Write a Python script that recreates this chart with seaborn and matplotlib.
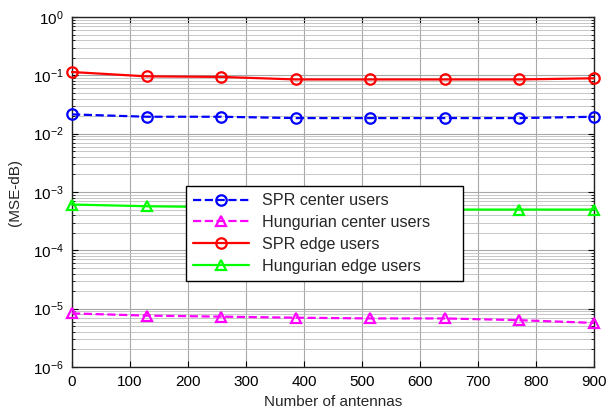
import numpy as np
import pandas as pd
import matplotlib
matplotlib.use("Agg")
import matplotlib.pyplot as plt
import seaborn as sns
from matplotlib.ticker import LogLocator, FixedLocator

antennas = [0, 129, 257, 386, 514, 643, 771, 900]
spr_center = [0.0214, 0.0195, 0.0195, 0.0185, 0.0185, 0.0185, 0.0185, 0.0195]
hung_center = [8.3e-6, 7.6e-6, 7.3e-6, 7.0e-6, 6.8e-6, 6.8e-6, 6.35e-6, 5.7e-6]
spr_edge = [0.114, 0.096, 0.094, 0.085, 0.085, 0.085, 0.085, 0.089]
hung_edge = [6.1e-4, 5.7e-4, 5.5e-4, 5.2e-4, 5.0e-4, 5.0e-4, 5.0e-4, 5.0e-4]
series_names = ["SPR center users", "Hungurian center users", "SPR edge users", "Hungurian edge users"]
x_ticks = [0, 100, 200, 300, 400, 500, 600, 700, 800, 900]

sns.set_style("ticks")
plt.rcParams["font.family"] = ["Liberation Sans", "DejaVu Sans"]

fig = plt.figure(figsize=(6.11, 4.12), dpi=100)
ax = fig.add_axes([72/611, 45/412, 522/611, 350/412])

styles = [
    (spr_center, "#0000ff", "--", "o"),
    (hung_center, "#ff00ff", "--", "^"),
    (spr_edge, "#ff0000", "-", "o"),
    (hung_edge, "#00ff00", "-", "^"),
]
for name, (vals, col, ls, mk) in zip(series_names, styles):
    df = pd.DataFrame({"x": antennas, "y": vals})
    sns.lineplot(data=df, x="x", y="y", ax=ax, color=col, linestyle=ls,
                 marker=mk, markersize=7.5, markerfacecolor="none",
                 markeredgecolor=col, markeredgewidth=1.6, linewidth=1.6,
                 label=name, clip_on=False, zorder=3)

ax.set_yscale("log")
ax.set_ylim(1e-6, 1e0)
ax.set_xlim(0, 900)
ax.xaxis.set_major_locator(FixedLocator(x_ticks))
ax.yaxis.set_major_locator(LogLocator(base=10, numticks=10))
ax.yaxis.set_minor_locator(LogLocator(base=10, subs=np.arange(2, 10), numticks=20))

ax.grid(which="major", color="#a8a8a8", linewidth=0.8)
ax.grid(which="minor", axis="y", color="#bdbdbd", linewidth=0.6)
ax.tick_params(which="both", direction="in", top=True, right=True, labelsize=11, colors="black")
ax.tick_params(which="major", length=4, pad=6)
ax.tick_params(which="minor", length=2.5)
for s in ax.spines.values():
    s.set_color("#222222")
    s.set_linewidth(1.0)

ax.set_xlabel("Number of antennas", fontsize=11, labelpad=4)
ax.set_ylabel("(MSE-dB)", fontsize=11, labelpad=8)

leg = ax.legend(loc="upper left", bbox_to_anchor=(0.218, 0.249, 0.531, 0.268),
                mode="expand", fontsize=11.6,
                frameon=True, fancybox=False, edgecolor="black", framealpha=1,
                handlelength=3.5, borderpad=0.45, labelspacing=0.42, borderaxespad=0)
leg.get_frame().set_linewidth(1.0)

fig.savefig("out.png", dpi=100)
